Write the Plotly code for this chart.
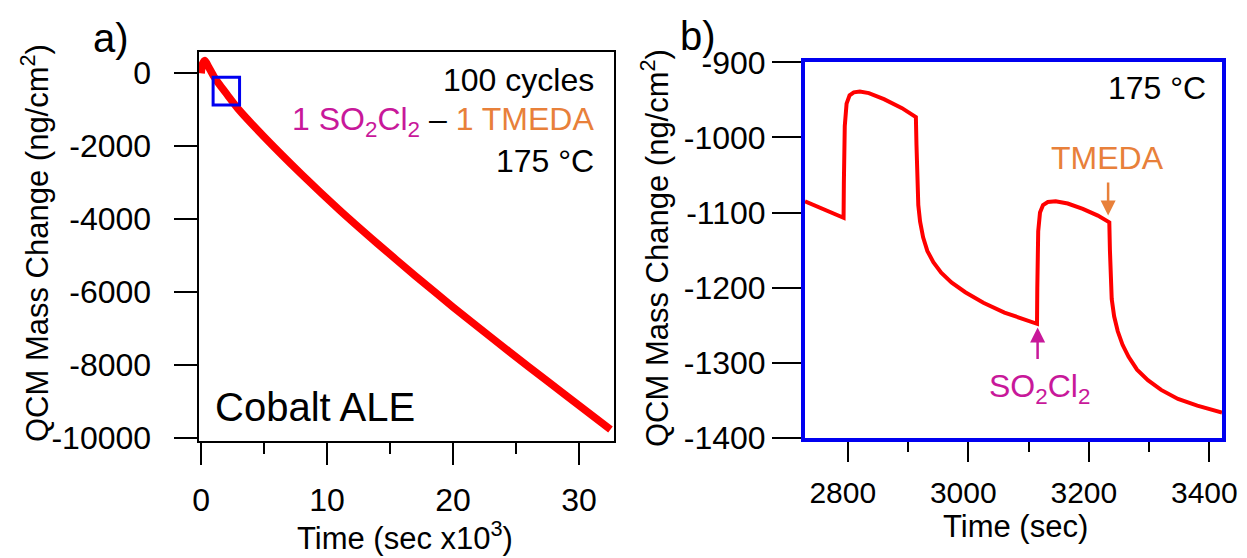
import plotly.graph_objects as go

# ---------------- data ----------------
# Panel a: full 100-cycle run (time in ks)
t_a = [0.0, 0.1, 0.3, 0.6, 1.0, 1.5, 2.1, 3.0, 5.0, 8.0, 11.0, 14.0, 17.0, 20.0, 23.0, 26.0, 29.0, 32.5]
m_a = [0, 250, 350, 170, -80, -330, -600, -1000, -1740, -2775, -3750, -4665, -5550, -6405, -7230, -8040, -8835, -9760]

# Panel b: zoom on two cycles (time in s)
t_b = [2729, 2760, 2793, 2793.5, 2795, 2798, 2803, 2810, 2820, 2835, 2860, 2890, 2913, 2914, 2915, 2917,
       2920, 2925, 2932, 2942, 2955, 2972, 2995, 3025, 3060, 3090, 3114, 3114.5, 3116, 3119, 3124, 3132,
       3145, 3165, 3190, 3215, 3234, 3235, 3236, 3238, 3242, 3248, 3256, 3266, 3280, 3298, 3320, 3348,
       3380, 3421]
m_b = [-1085, -1096, -1107, -1060, -985, -955, -944, -940, -939, -941, -949, -961, -973, -1010, -1055, -1090,
       -1112, -1133, -1151, -1166, -1180, -1193, -1206, -1220, -1233, -1242, -1248, -1200, -1125, -1100, -1090, -1086,
       -1085, -1088, -1095, -1104, -1113, -1150, -1185, -1215, -1238, -1258, -1276, -1292, -1309, -1323, -1336, -1348,
       -1357, -1366]

xticks_a = [0, 10, 20, 30]
xminor_a = [5, 15, 25]
yticks_a = [0, -2000, -4000, -6000, -8000, -10000]
xticks_b = [2800, 3000, 3200, 3400]
xminor_b = [2900, 3100, 3300]
yticks_b = [-900, -1000, -1100, -1200, -1300, -1400]

# zoom box drawn on panel a (ks, ng/cm2)
box_x = [0.95, 3.05]
box_y = [-110, -870]

# ---------------- style ----------------
# the page body has an 8 px margin: the figure starts at (8, 8) in the window
OFF = 8
W, H = 1247 - OFF, 558 - OFF
FONT = "Liberation Sans, Arial, sans-serif"
RED = "#FF0000"
BLUE = "#0000F0"
MAG = "#C8189A"
ORA = "#E8803A"
FS = 32
FT = 31


def px(x):
    return (x - OFF) / W


def py(y):
    return 1 - (y - OFF) / H


fig = go.Figure()
fig.add_trace(go.Scatter(x=t_a, y=m_a, mode="lines", line=dict(color=RED, width=7.5, shape="spline", smoothing=0.6),
                         xaxis="x", yaxis="y", showlegend=False))
fig.add_trace(go.Scatter(x=t_b, y=m_b, mode="lines", line=dict(color=RED, width=4),
                         xaxis="x2", yaxis="y2", showlegend=False))

tickfont = dict(family=FONT, size=FS, color="black")
common = dict(showgrid=False, zeroline=False, automargin=False,
              ticks="outside", tickwidth=2, tickcolor="black", showline=True, mirror=True,
              ticklabeloverflow="allow")

fig.update_layout(
    width=W, height=H,
    margin=dict(l=0, r=0, t=0, b=0, pad=0, autoexpand=False),
    paper_bgcolor="white", plot_bgcolor="white",
    font=dict(family=FONT, color="black"),
    xaxis=dict(domain=[px(198.5), px(614)], range=[-0.21, 32.78], tickvals=xticks_a,
               ticktext=[str(v) for v in xticks_a], ticklen=22, tickfont=tickfont,
               linecolor="black", linewidth=2, ticklabelstandoff=8,
               minor=dict(tickvals=xminor_a, ticks="outside", ticklen=11, tickwidth=2,
                          tickcolor="black", showgrid=False), **common),
    yaxis=dict(domain=[py(441), py(52.3)], range=[-10075, 575], tickvals=yticks_a,
               ticktext=[str(v) for v in yticks_a], ticklen=23, tickfont=tickfont,
               linecolor="black", linewidth=2, ticklabelstandoff=16, **common),
    xaxis2=dict(domain=[px(805), px(1222)], range=[2729, 3421], anchor="y2", tickvals=xticks_b,
                ticktext=[str(v) for v in xticks_b], ticklen=20,
                tickfont=dict(family=FONT, size=30, color="black"),
                linecolor=BLUE, linewidth=4, ticklabelstandoff=5, ticklabelshift=-5,
                minor=dict(tickvals=xminor_b, ticks="outside", ticklen=10, tickwidth=2,
                           tickcolor="black", showgrid=False), **common),
    yaxis2=dict(domain=[py(438), py(62.3)], range=[-1400, -900], anchor="x2", tickvals=yticks_b,
                ticktext=[str(v) for v in yticks_b], ticklen=29, tickfont=tickfont,
                linecolor=BLUE, linewidth=4, ticklabelstandoff=0, **common),
)

# zoom rectangle on panel a
fig.add_shape(type="rect", xref="x", yref="y", x0=box_x[0], x1=box_x[1], y0=box_y[0], y1=box_y[1],
              line=dict(color=BLUE, width=3))

ann = []


def text(x, y, s, size=FS, color="black", xanchor="center", textangle=0):
    ann.append(dict(x=px(x), y=py(y), xref="paper", yref="paper", text=s, showarrow=False,
                    xanchor=xanchor, yanchor="middle", textangle=textangle,
                    font=dict(family=FONT, size=size, color=color)))


# panel labels
text(111, 38, "a)", size=40)
text(698, 36, "b)", size=40)

# axis titles
text(35, 243, "QCM Mass Change (ng/cm<sup>2</sup>)", size=FT, textangle=-90)
text(655, 248, "QCM Mass Change (ng/cm<sup>2</sup>)", size=FT, textangle=-90)
text(405, 536, "Time (sec x10<sup>3</sup>)", size=FT)
text(1015, 526, "Time (sec)", size=FT)

# panel a texts
text(596, 80, "100 cycles", xanchor="right")
text(596, 121, f"<span style='color:{MAG}'>1 SO<sub>2</sub>Cl<sub>2</sub></span> – "
               f"<span style='color:{ORA}'>1 TMEDA</span>", xanchor="right")
text(596, 161, "175 °C", xanchor="right")
text(213, 407, "Cobalt ALE", size=40, xanchor="left")

# panel b texts
text(1208, 88, "175 °C", xanchor="right")
text(1107, 158, "TMEDA", color=ORA)
text(1039, 388, "SO<sub>2</sub>Cl<sub>2</sub>", color=MAG)

# arrows (data coords of panel b)
ann.append(dict(x=3232, y=-1104, xref="x2", yref="y2", ax=3232, ay=-1058, axref="x2", ayref="y2",
                text="", showarrow=True, arrowhead=2, arrowsize=1.2, arrowwidth=2.5, arrowcolor=ORA))
ann.append(dict(x=3115, y=-1253, xref="x2", yref="y2", ax=3115, ay=-1297, axref="x2", ayref="y2",
                text="", showarrow=True, arrowhead=2, arrowsize=1.2, arrowwidth=2.5, arrowcolor=MAG))

fig.update_layout(annotations=ann)

fig.write_html("out.html")
